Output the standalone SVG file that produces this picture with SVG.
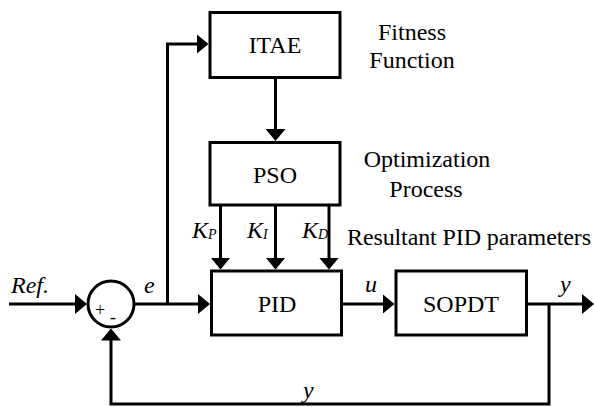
<svg xmlns="http://www.w3.org/2000/svg" width="594" height="407" viewBox="0 0 594 407">
<style>
.box{fill:#fff;stroke:#000;stroke-width:3}
.ln{fill:none;stroke:#000;stroke-width:3}
</style>
<defs>
<marker id="ah" viewBox="0 0 12 20" refX="10" refY="10" markerWidth="12" markerHeight="20" markerUnits="userSpaceOnUse" orient="auto">
<path d="M0,0 L12,10 L0,20 Z" fill="#000"/>
</marker>
</defs>
<rect width="594" height="407" fill="#fff"/>
<g id="connectors">
<path class="ln" d="M9,304 H85" marker-end="url(#ah)"/>
<path class="ln" d="M134,304 H208" marker-end="url(#ah)"/>
<path class="ln" d="M167.5,304 V44 H206.5" marker-end="url(#ah)"/>
<path class="ln" d="M275.5,79 V139" marker-end="url(#ah)"/>
<path class="ln" d="M220.5,206 V267.5" marker-end="url(#ah)"/>
<path class="ln" d="M275.5,206 V267.5" marker-end="url(#ah)"/>
<path class="ln" d="M329,206 V267.5" marker-end="url(#ah)"/>
<path class="ln" d="M343,304 H392.5" marker-end="url(#ah)"/>
<path class="ln" d="M528,304 H592" marker-end="url(#ah)"/>
<path class="ln" d="M549,304 V404 H111 V330.5" marker-end="url(#ah)"/>
</g>
<g id="itae">
<rect class="box" x="210" y="12.5" width="130" height="65"/>
<text x="275" y="53" font-family="Liberation Serif, serif" font-size="24" text-anchor="middle">ITAE</text>
</g>
<g id="pso">
<rect class="box" x="210" y="142.5" width="130" height="62.5"/>
<text x="275" y="183" font-family="Liberation Serif, serif" font-size="24" text-anchor="middle">PSO</text>
</g>
<g id="pid">
<rect class="box" x="211.5" y="271" width="130" height="64"/>
<text x="277" y="312" font-family="Liberation Serif, serif" font-size="24" text-anchor="middle">PID</text>
</g>
<g id="sopdt">
<rect class="box" x="396" y="271" width="130.5" height="64"/>
<text x="461" y="312" font-family="Liberation Serif, serif" font-size="24" text-anchor="middle">SOPDT</text>
</g>
<g id="sum">
<circle class="box" cx="111" cy="304" r="23"/>
<text x="100" y="316" font-family="Liberation Serif, serif" font-size="18" text-anchor="middle">+</text>
<text x="113" y="323" font-family="Liberation Serif, serif" font-size="18" text-anchor="middle">-</text>
</g>
<g id="labels">
<text x="412" y="40" font-family="Liberation Serif, serif" font-size="24" text-anchor="middle">Fitness</text>
<text x="412" y="68" font-family="Liberation Serif, serif" font-size="24" text-anchor="middle">Function</text>
<text x="427" y="167" font-family="Liberation Serif, serif" font-size="24" text-anchor="middle">Optimization</text>
<text x="426" y="197" font-family="Liberation Serif, serif" font-size="24" text-anchor="middle">Process</text>
<text x="347" y="245" font-family="Liberation Serif, serif" font-size="24" textLength="244">Resultant PID parameters</text>
<text x="192" y="238" font-family="Liberation Serif, serif" font-size="24" font-style="italic">K<tspan font-size="14" dy="1">P</tspan></text>
<text x="247" y="238" font-family="Liberation Serif, serif" font-size="24" font-style="italic">K<tspan font-size="14" dy="1">I</tspan></text>
<text x="302" y="238" font-family="Liberation Serif, serif" font-size="24" font-style="italic">K<tspan font-size="14" dy="1">D</tspan></text>
<text x="11" y="293" font-family="Liberation Serif, serif" font-size="24" font-style="italic">Ref.</text>
<text x="144" y="293" font-family="Liberation Serif, serif" font-size="24" font-style="italic">e</text>
<text x="365" y="292" font-family="Liberation Serif, serif" font-size="24" font-style="italic">u</text>
<text x="560" y="292" font-family="Liberation Serif, serif" font-size="24" font-style="italic">y</text>
<text x="303" y="398" font-family="Liberation Serif, serif" font-size="24" font-style="italic">y</text>
</g>
</svg>
